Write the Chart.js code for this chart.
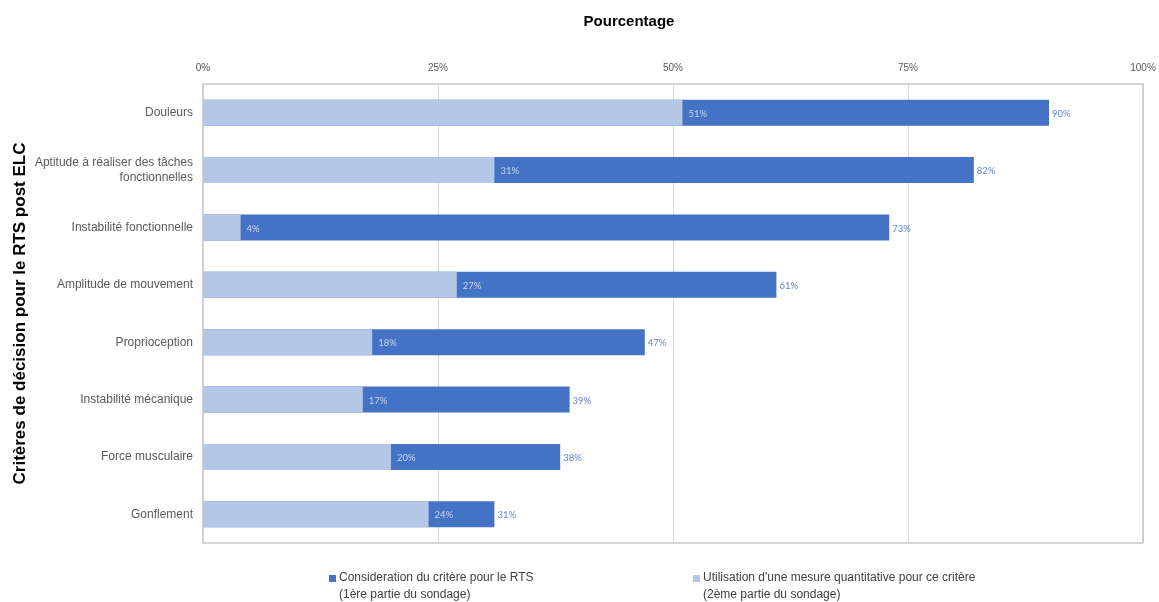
<!DOCTYPE html>
<html>
<head>
<meta charset="utf-8">
<script src="https://cdn.jsdelivr.net/npm/chart.js@4"></script>
<style>
  html, body { margin: 0; padding: 0; background: #fff; }
  #wrap { width: 1159px; height: 602px; position: relative; }
</style>
</head>
<body>
<div id="wrap"><canvas id="rtsChart"></canvas></div>
<script>
// Critères et pourcentages
const criteres = [
    'Douleurs',
    ['Aptitude à réaliser des tâches', 'fonctionnelles'],
    'Instabilité fonctionnelle',
    'Amplitude de mouvement',
    'Proprioception',
    'Instabilité mécanique',
    'Force musculaire',
    'Gonflement'
];
const consideration = [90, 82, 73, 61, 47, 39, 38, 31];
const utilisation = [51, 31, 4, 27, 18, 17, 20, 24];
const xTicks = [0, 25, 50, 75, 100];

const legendItems = [
    { color: '#4472c4', lines: ['Consideration du critère pour le RTS', '(1ère partie du sondage)'], x: 329 },
    { color: '#b4c7e7', lines: ["Utilisation d'une mesure quantitative pour ce critère", '(2ème partie du sondage)'], x: 693 }
];

const COLOR_DARK = '#4472c4';
const COLOR_LIGHT = '#b4c7e7';
const FONT = '"Liberation Sans", Arial, sans-serif';

// Etiquettes de valeurs sur les barres
const valueLabels = {
    id: 'valueLabels',
    afterDatasetsDraw(chart) {
        const ctx = chart.ctx;
        ctx.save();
        ctx.font = '9.5px Lato, "Open Sans", sans-serif';
        ctx.textBaseline = 'middle';
        ctx.textAlign = 'left';
        chart.data.datasets.forEach((ds, i) => {
            const meta = chart.getDatasetMeta(i);
            meta.data.forEach((bar, j) => {
                if (ds.label.startsWith('Utilisation')) {
                    ctx.fillStyle = '#c9d6ef';
                    ctx.fillText(ds.data[j] + '%', bar.x + 6, bar.y + 1);
                } else {
                    ctx.fillStyle = '#5f84d0';
                    ctx.fillText(ds.data[j] + '%', bar.x + 3, bar.y + 1);
                }
            });
        });
        ctx.restore();
    }
};

// Cadre gris, titre de l'axe X et légende en bas
const frameAndLegend = {
    id: 'frameAndLegend',
    afterDraw(chart) {
        const ctx = chart.ctx;
        const a = chart.chartArea;
        ctx.save();
        ctx.strokeStyle = '#c8c8c8';
        ctx.lineWidth = 1.5;
        ctx.strokeRect(a.left, a.top, a.right - a.left, a.bottom - a.top);

        ctx.fillStyle = '#000';
        ctx.font = 'bold 15px ' + FONT;
        ctx.textAlign = 'center';
        ctx.textBaseline = 'middle';
        ctx.fillText('Pourcentage', 629, 22);

        ctx.font = '12px ' + FONT;
        ctx.textAlign = 'left';
        legendItems.forEach(item => {
            ctx.fillStyle = item.color;
            ctx.fillRect(item.x, 575, 7, 7);
            ctx.fillStyle = '#404040';
            ctx.fillText(item.lines[0], item.x + 10, 578);
            ctx.fillText(item.lines[1], item.x + 10, 595);
        });
        ctx.restore();
    }
};

new Chart(document.getElementById('rtsChart'), {
    type: 'bar',
    data: {
        labels: criteres,
        datasets: [
            {
                label: 'Utilisation d\'une mesure quantitative pour ce critère',
                data: utilisation,
                backgroundColor: COLOR_LIGHT,
                categoryPercentage: 1,
                barPercentage: 0.455
            },
            {
                label: 'Consideration du critère pour le RTS',
                data: consideration,
                backgroundColor: COLOR_DARK,
                categoryPercentage: 1,
                barPercentage: 0.455
            }
        ]
    },
    options: {
        indexAxis: 'y',
        responsive: true,
        maintainAspectRatio: false,
        animation: false,
        layout: { padding: { left: 0, right: 16, top: 0, bottom: 59 } },
        plugins: {
            legend: { display: false },
            tooltip: { enabled: false }
        },
        scales: {
            x: {
                position: 'top',
                min: 0,
                max: 100,
                afterBuildTicks: scale => { scale.ticks = xTicks.map(v => ({ value: v })); },
                afterFit: scale => {
                    scale.height = 84;
                    scale.paddingLeft = 0;
                    scale.paddingRight = 0;
                },
                ticks: {
                    callback: v => v + '%',
                    color: '#595959',
                    font: { family: FONT, size: 10 },
                    padding: 10,
                    maxRotation: 0
                },
                grid: { color: '#d9d9d9', lineWidth: 1, drawTicks: false },
                border: { display: false }
            },
            y: {
                stacked: false,
                afterFit: scale => { scale.width = 203; },
                ticks: {
                    color: '#595959',
                    font: { family: FONT, size: 12 },
                    padding: 10
                },
                grid: { display: false, drawTicks: false },
                border: { display: false },
                title: {
                    display: true,
                    text: 'Critères de décision pour le RTS post ELC',
                    color: '#000',
                    font: { family: FONT, size: 17, weight: 'bold' },
                    padding: { top: 10, bottom: 0 }
                }
            }
        },
        datasets: { bar: { grouped: false } }
    },
    plugins: [valueLabels, frameAndLegend]
});
</script>
</body>
</html>
